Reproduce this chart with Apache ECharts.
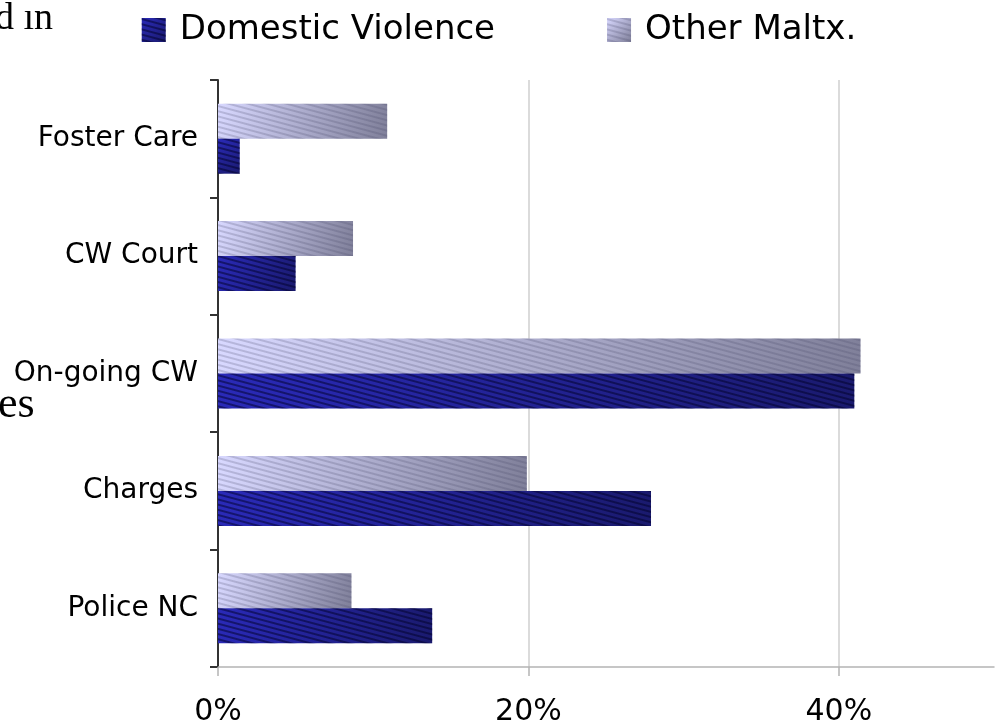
<!DOCTYPE html>
<html>
<head>
<meta charset="utf-8">
<script src="https://cdn.jsdelivr.net/npm/echarts@6/dist/echarts.min.js"></script>
<style>
html,body{margin:0;padding:0;background:#fff;}
#chart{width:998px;height:727px;}
</style>
</head>
<body>
<div id="chart"></div>
<script>
const categories = ['Police NC', 'Charges', 'On-going CW', 'CW Court', 'Foster Care'];
const domesticViolence = [13.8, 27.9, 41.0, 5.0, 1.4];
const otherMaltx = [8.6, 19.9, 41.4, 8.7, 10.9];
const seriesNames = ['Domestic Violence', 'Other Maltx.'];
const xTicks = [0, 20, 40];

const chart = echarts.init(document.getElementById('chart'), null, {renderer: 'canvas'});
const FONT = 'DejaVu Sans';

chart.setOption({
  backgroundColor: '#ffffff',
  animation: false,
  legend: {
    top: 8,
    left: 'center',
    icon: 'rect',
    itemWidth: 24,
    itemHeight: 24,
    itemGap: 112,
    data: seriesNames,
    textStyle: {fontFamily: FONT, fontSize: 34, color: '#000', padding: [0, 0, 0, 9]}
  },
  graphic: [
    {type: 'text', left: -5, top: 0, style: {text: 'd ın', font: '38px "Liberation Serif"', fill: '#000'}},
    {type: 'text', left: -2, top: 383, style: {text: 'es', font: '44px "Liberation Serif"', fill: '#000'}}
  ],
  grid: {left: 218, right: 4, top: 80, bottom: 57, containLabel: false},
  xAxis: {
    type: 'value',
    min: 0, max: 50, interval: 20,
    axisLine: {show: true, lineStyle: {color: '#b4b4b4', width: 1.5}},
    axisTick: {show: true, length: 9, lineStyle: {color: '#b4b4b4', width: 1.5}, customValues: xTicks},
    axisLabel: {formatter: '{value}%', fontFamily: FONT, fontSize: 30, color: '#000', margin: 30, customValues: xTicks},
    splitLine: {show: true, lineStyle: {color: ['#cfcfcf', '#cfcfcf', '#cfcfcf', 'rgba(0,0,0,0)'], width: 1.5}}
  },
  yAxis: {
    type: 'category',
    data: categories,
    axisLine: {show: true, lineStyle: {color: '#333', width: 2}},
    axisTick: {show: true, length: 8, lineStyle: {color: '#333', width: 2}},
    axisLabel: {fontFamily: FONT, fontSize: 28, color: '#000', margin: 20}
  },
  series: [
    {
      name: seriesNames[1], type: 'bar', data: otherMaltx,
      barWidth: 35, barGap: '0%',
      itemStyle: {
        color: new echarts.graphic.LinearGradient(0, 0, 1, 1, [
          {offset: 0, color: '#d8d8ff'}, {offset: 1, color: '#80809a'}
        ]),
        decal: {symbol: 'rect', dashArrayX: [1, 0], dashArrayY: [2, 3], rotation: Math.PI / 12, color: 'rgba(70,70,100,0.22)'}
      }
    },
    {
      name: seriesNames[0], type: 'bar', data: domesticViolence,
      barWidth: 35, barGap: '0%',
      itemStyle: {
        color: new echarts.graphic.LinearGradient(0, 0, 1, 1, [
          {offset: 0, color: '#2a2ab8'}, {offset: 1, color: '#1a1a6e'}
        ]),
        decal: {symbol: 'rect', dashArrayX: [1, 0], dashArrayY: [2, 3], rotation: Math.PI / 12, color: 'rgba(0,0,40,0.5)'}
      }
    }
  ]
});
</script>
</body>
</html>
